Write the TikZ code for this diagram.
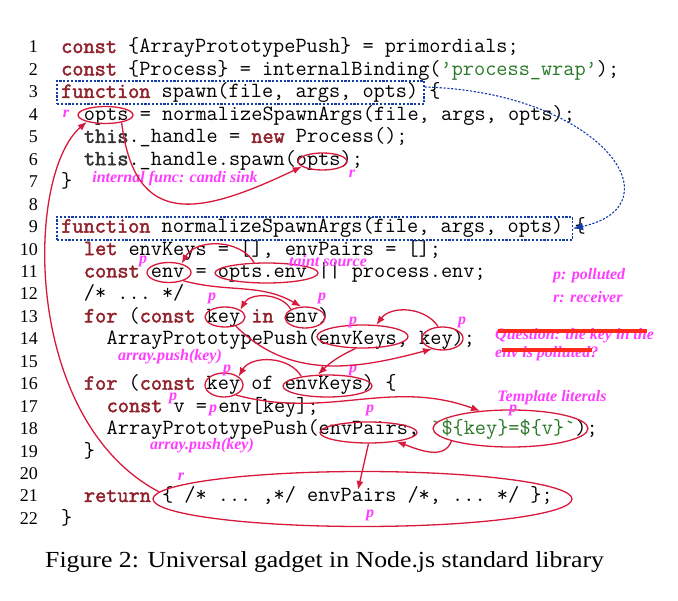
\documentclass[tikz,border=0pt]{standalone}
\usepackage{fontspec}
\setmainfont{Liberation Serif}
\newfontfamily\capface{Liberation Serif}[FakeStretch=1.12]
\newfontfamily\kwface{Latin Modern Mono}[FakeBold=2.2]
\usetikzlibrary{arrows.meta,shapes.geometric,positioning}
\definecolor{hlred}{RGB}{215,25,60}
\definecolor{kwred}{RGB}{145,35,45}
\definecolor{thisgray}{RGB}{50,50,50}
\definecolor{strgreen}{RGB}{40,120,40}
\definecolor{dashblue}{RGB}{20,60,170}
\definecolor{notemag}{RGB}{255,60,255}
\definecolor{strikered}{RGB}{255,40,30}
\newcommand{\codefont}{\ttfamily\fontsize{21.67}{24}\selectfont\frenchspacing}
\newcommand{\numfont}{\fontsize{18}{20}\selectfont}
\newcommand{\notefont}{\bfseries\itshape\fontsize{16}{17}\selectfont}
\newcommand{\kw}[1]{{\kwface\frenchspacing\textcolor{kwred}{#1}}}
\newcommand{\kwt}[1]{{\kwface\frenchspacing\textcolor{thisgray}{#1}}}
\newcommand{\strlit}[1]{\textcolor{strgreen}{#1}}
\tikzstyle{hl} = [ellipse, draw=hlred, line width=1.3pt, inner sep=0pt]
\tikzstyle{line} = [draw=hlred, line width=1.3pt, -{Latex[length=9pt,width=7pt]}]
\tikzset{
  code/.style={anchor=base west, inner sep=0pt, font=\codefont},
  lnum/.style={anchor=base east, inner sep=0pt, font=\numfont},
  note/.style={inner sep=0pt, text=notemag, font=\notefont},
  headbox/.style={
    rectangle,
    draw=dashblue, line width=1.1pt,
    dash pattern=on 2.2pt off 1.6pt,
    inner sep=0pt},
  callline/.style={draw=dashblue, line width=1.1pt,
    dash pattern=on 2.2pt off 1.6pt, -{Latex[length=10pt,width=8pt]}},
  strike/.style={draw=strikered, line width=4pt},
}
\begin{document}
\begin{tikzpicture}[x=1pt, y=1pt]
    \useasboundingbox (0,0) rectangle (678,-601);
    % Line numbers
    \foreach \i in {1,...,22}
        \node[lnum] (ln\i) at (38,{-53-(\i-1)*22.45}) {\i};
    % Code lines
    \node[code] (line1) at (61,-53) {\kw{const} \{ArrayPrototypePush\} = primordials;};
    \node[code] (line2) at (61,-75.45) {\kw{const} \{Process\} = internalBinding(\strlit{’process\_wrap’});};
    \node[code] (line3) at (61,-97.9) {\kw{function} spawn(file, args, opts) \{};
    \node[code] (line4) at (83.75,-120.35) {opts = normalizeSpawnArgs(file, args, opts);};
    \node[code] (line5) at (83.75,-142.8) {\kwt{this}.\_handle = \kw{new} Process();};
    \node[code] (line6) at (83.75,-165.25) {\kwt{this}.\_handle.spawn(opts);};
    \node[code] (line7) at (61,-187.7) {\}};
    \node[code] (line9) at (61,-232.6) {\kw{function} normalizeSpawnArgs(file, args, opts) \{};
    \node[code] (line10) at (83.75,-255.05) {\kw{let} envKeys = [], envPairs = [];};
    \node[code] (line11) at (83.75,-277.5) {\kw{const} env = opts.env || process.env;};
    \node[code] (line12) at (83.75,-299.95) {/* ... */};
    \node[code] (line13) at (83.75,-322.4) {\kw{for} (\kw{const} key \kw{in} env)};
    \node[code] (line14) at (106.5,-344.85) {ArrayPrototypePush(envKeys, key);};
    \node[code] (line16) at (83.75,-389.75) {\kw{for} (\kw{const} key of envKeys) \{};
    \node[code] (line17) at (106.5,-412.2) {\kw{const} v = env[key];};
    \node[code] (line18) at (106.5,-434.65) {ArrayPrototypePush(envPairs, \strlit{\char"60\$\{key\}=\$\{v\}\char"60});};
    \node[code] (line19) at (83.75,-457.1) {\}};
    \node[code] (line21) at (83.75,-502) {\kw{return} \{ /* ... ,*/ envPairs /*, ... */ \};};
    \node[code] (line22) at (61,-524.45) {\}};
    % Function heads
    \node[headbox, minimum width=367pt, minimum height=23pt] (spawnHead) at (240.5,-92.5) {};
    \node[headbox, minimum width=515.5pt, minimum height=23pt] (normHead) at (314.75,-228.5) {};
    % Marked values
    \node[hl, minimum width=55pt, minimum height=17pt] (optsRecv) at (105.5,-115) {};
    \node[hl, minimum width=49pt, minimum height=17pt] (optsSink) at (322.5,-161.5) {};
    \node[hl, minimum width=44pt, minimum height=20pt] (envVar) at (169,-272.5) {};
    \node[hl, minimum width=103pt, minimum height=20pt] (optsEnv) at (266.5,-273) {};
    \node[hl, minimum width=40pt, minimum height=20pt] (keyIn) at (225,-317) {};
    \node[hl, minimum width=40pt, minimum height=21pt] (envIn) at (305,-317.5) {};
    \node[hl, minimum width=91pt, minimum height=23pt] (envKeysPush) at (362.5,-336.5) {};
    \node[hl, minimum width=41pt, minimum height=23pt] (keyPush) at (442.5,-338.5) {};
    \node[hl, minimum width=38pt, minimum height=24pt] (keyOf) at (224,-385) {};
    \node[hl, minimum width=89pt, minimum height=22pt] (envKeysOf) at (327.5,-386) {};
    \node[hl, minimum width=97pt, minimum height=21pt] (envPairsPush) at (368.5,-432.5) {};
    \node[hl, minimum width=155pt, minimum height=37pt] (tmplLit) at (510.5,-428.5) {};
    \node[hl, minimum width=419pt, minimum height=55pt] (returnObj) at (362.5,-499) {};
    \coordinate (envPairsRet) at (358,-490);
    % Notes
    \node[note] (rRecv) at (66,-114) {r};
    \node[note] (rSink) at (352,-174) {r};
    \node[note] (sinkNote) at (175,-179) {internal func: candi sink};
    \node[note] (srcNote) at (328,-261) {taint source};
    \node[note] (pEnv) at (143,-261) {p};
    \node[note] (pKeyIn) at (212,-298) {p};
    \node[note] (pEnvIn) at (322,-298) {p};
    \node[note] (pEnvKeysPush) at (353,-322) {p};
    \node[note] (pKeyPush) at (462,-322) {p};
    \node[note] (pushNoteA) at (170,-357) {array.push(key)};
    \node[note] (pKeyOf) at (227,-370) {p};
    \node[note] (pEnvKeysOf) at (353,-370) {p};
    \node[note] (pV) at (173,-398) {p};
    \node[note] (pEq) at (213,-410) {p};
    \node[note] (tmplNote) at (552,-398) {Template literals};
    \node[note] (pEnvPairs) at (370,-410) {p};
    \node[note] (pTmpl) at (513,-410) {p};
    \node[note] (pushNoteB) at (202,-446) {array.push(key)};
    \node[note] (rRet) at (181,-477) {r};
    \node[note] (pRet) at (370,-515) {p};
    \node[note, anchor=west] (legendP) at (553,-276) {p: polluted};
    \node[note, anchor=west] (legendR) at (553,-297) {r: receiver};
    \node[note, anchor=west] (questA) at (495,-336) {Question: the key in the};
    \node[note, anchor=west] (questB) at (495,-354) {env is polluted?};
    \path[strike] (498,-331) -- (647,-331);
    \path[strike] (502,-350) -- (592,-350);
    % Caption
    \node[anchor=base west, inner sep=0pt, font=\capface\fontsize{23}{26}\selectfont] (caption) at (45,-568)
        {Figure 2: Universal gadget in Node.js standard library};
    % Draw edges
    \path [callline] ([yshift=5.5pt]spawnHead.east) .. controls (600,-92) and (680,-205) .. (normHead.east);
    \path [line] (optsRecv.-25) .. controls (135,-230) and (200,-215) .. (optsSink.-166);
    \path [line] (returnObj.178) .. controls (22,-420) and (25,-175) .. (optsRecv.200);
    \path [line] (optsEnv.140) to[bend right=60] (envVar.35);
    \path [line] (envVar.-30) to[out=-15,in=150] (envIn.110);
    \path [line] (envIn.150) to[bend right=60] (keyIn.25);
    \path [line] (keyIn.-40) to[out=-45,in=-165] (keyPush.-135);
    \path [line] (keyPush.110) to[bend right=55] (envKeysPush.40);
    \path [line] (envKeysPush.-120) to[bend right=10] (envKeysOf.130);
    \path [line] (envKeysOf.160) to[bend right=60] (keyOf.30);
    \path [line] (keyOf.-40) to[out=-15,in=160] (tmplLit.150);
    \path [line] (tmplLit.-168) to[out=-110,in=-20] (envPairsPush.-18);
    \path [line] (envPairsPush.-90) -- (envPairsRet);
\end{tikzpicture}
\end{document}
